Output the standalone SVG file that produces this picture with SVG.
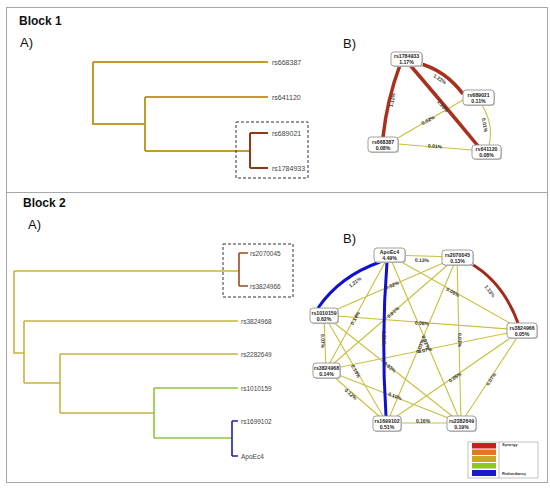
<svg xmlns="http://www.w3.org/2000/svg" width="550" height="490" viewBox="0 0 550 490">
<style>
.frame{fill:none;stroke:#a8a8a8;stroke-width:1}
.title{font-family:"Liberation Sans",Arial,sans-serif;font-size:12px;font-weight:bold;fill:#111}
.panel{font-family:"Liberation Sans",Arial,sans-serif;font-size:13px;fill:#111}
.leaf{font-family:"Liberation Sans",Arial,sans-serif;font-size:6.5px;fill:#444;dominant-baseline:central}
.t1{fill:none;stroke:#c49a2c;stroke-width:2}
.t1d{fill:none;stroke:#8b3a1a;stroke-width:2}
.t2{fill:none;stroke:#c8b43c;stroke-width:1.6}
.t2g{fill:none;stroke:#8dc63f;stroke-width:1.6}
.t2b{fill:none;stroke:#2222aa;stroke-width:1.6}
.t2d{fill:none;stroke:#9a4a1e;stroke-width:1.6}
.dash{fill:none;stroke:#333;stroke-width:1;stroke-dasharray:3,2}
.ey{fill:none;stroke:#c8c040;stroke-width:1.1}
.er{fill:none;stroke:#a8301c;stroke-width:3.5}
.er2{fill:none;stroke:#a02a1c;stroke-width:3}
.eb{fill:none;stroke:#1010d0;stroke-width:3}
.el{font-family:"Liberation Sans",Arial,sans-serif;font-size:5px;font-weight:bold;fill:#333;text-anchor:middle;dominant-baseline:central}
.box{fill:#fff;stroke:#888;stroke-width:0.8}
.shd{fill:#c8c8c8}
.nt{font-family:"Liberation Sans",Arial,sans-serif;font-size:5.2px;font-weight:bold;fill:#222;text-anchor:middle}
.lg{font-family:"Liberation Sans",Arial,sans-serif;font-size:4px;font-weight:bold;fill:#333}
</style>

<rect class="frame" x="6.5" y="7.5" width="541" height="185"/>
<rect class="frame" x="6.5" y="192.5" width="541" height="290"/>

<text class="title" x="19" y="25">Block 1</text>
<text class="panel" x="20" y="47">A)</text>
<text class="panel" x="343" y="48">B)</text>
<text class="title" x="23" y="207">Block 2</text>
<text class="panel" x="28" y="229">A)</text>
<text class="panel" x="343" y="243">B)</text>

<!-- Block 1 dendrogram -->
<g id="tree1">
<path class="t1" d="M93,62 H268 M93,62 V124 H145 M145,97 V151 M145,97 H268 M145,151 H250"/>
<path class="t1d" d="M250,133 V168 M250,133 H268 M250,168 H268"/>
<rect class="dash" x="236" y="122" width="72" height="56"/>
<text class="leaf" x="272" y="62" style="font-size:7px">rs668387</text>
<text class="leaf" x="272" y="97" style="font-size:7px">rs641120</text>
<text class="leaf" x="272" y="133" style="font-size:7px">rs689021</text>
<text class="leaf" x="272" y="168" style="font-size:7px">rs1784933</text>
</g>

<!-- Block 2 dendrogram -->
<g id="tree2">
<path class="t2" d="M14,271 H239 M14,271 V353 H24 M24,321 V383 M24,321 H238 M24,383 H60 M60,354 V413 M60,354 H238 M60,413 H154"/>
<path class="t2g" d="M154,388 V438 M154,388 H238 M154,438 H232"/>
<path class="t2b" d="M232,421 V456 M232,421 H238 M232,456 H238"/>
<path class="t2d" d="M239,253 V286 M239,253 H248 M239,286 H248"/>
<rect class="dash" x="223" y="244" width="70" height="53"/>
<text class="leaf" x="250" y="253">rs2070045</text>
<text class="leaf" x="250" y="286">rs3824966</text>
<text class="leaf" x="241" y="321">rs3824968</text>
<text class="leaf" x="241" y="354">rs2282649</text>
<text class="leaf" x="241" y="388">rs1010159</text>
<text class="leaf" x="241" y="421">rs1699102</text>
<text class="leaf" x="241" y="456">ApoEc4</text>
</g>

<!-- Block 1 network connectors -->
<g id="edges1">
<path class="ey" d="M396,139 L463,100"/>
<path class="ey" d="M482,105 Q494,125 489,145"/>
<path class="ey" d="M398,144 L472,150"/>
<path class="er" d="M400,65 Q387,100 383,137"/>
<path class="er" d="M418,63 Q445,70 463,94"/>
<path class="er" d="M410,65 Q440,100 478,146"/>
<text class="el" transform="translate(428,120) rotate(-30)">0.02%</text>
<text class="el" transform="translate(485,125) rotate(80)">0.01%</text>
<text class="el" transform="translate(435,146) rotate(4)">0.01%</text>
<text class="el" transform="translate(392,100) rotate(-78)">1.11%</text>
<text class="el" transform="translate(440,79) rotate(33)">1.22%</text>
<text class="el" transform="translate(443,106) rotate(50)">1.16%</text>
</g>

<!-- Block 2 network connectors -->
<g id="edges2">
<path class="ey" d="M389,255 L457,257 M389,255 L522,330 M389,255 L326,370 M389,255 L461,423 M457,257 L324,315 M457,257 L326,370 M457,257 L387,423 M457,257 L461,423 M324,315 L522,330 M324,315 L326,370 M324,315 L387,423 M324,315 L461,423 M522,330 L326,370 M522,330 L387,423 M522,330 L461,423 M326,370 L387,423 M326,370 L461,423 M387,423 L461,423"/>
<path class="eb" d="M380,262 Q340,276 318,308"/>
<path class="eb" d="M387,262 Q381,339 386,416"/>
<path class="er2" d="M470,263 Q503,282 518,323"/>
<text class="el" transform="translate(422,260) rotate(2)">0.13%</text>
<text class="el" transform="translate(355,282) rotate(-37)">1.21%</text>
<text class="el" transform="translate(453,292) rotate(29)">0.06%</text>
<text class="el" transform="translate(355,318) rotate(-61)">0.14%</text>
<text class="el" transform="translate(384,338) rotate(90)">1.21%</text>
<text class="el" transform="translate(426,342) rotate(67)">0.02%</text>
<text class="el" transform="translate(392,285) rotate(-24)">0.02%</text>
<text class="el" transform="translate(490,291) rotate(53)">1.13%</text>
<text class="el" transform="translate(393,312) rotate(-41)">0.01%</text>
<text class="el" transform="translate(420,346) rotate(-67)">0.03%</text>
<text class="el" transform="translate(460,340) rotate(89)">0.03%</text>
<text class="el" transform="translate(422,323) rotate(4)">0.08%</text>
<text class="el" transform="translate(323,341) rotate(88)">0.07%</text>
<text class="el" transform="translate(356,371) rotate(60)">0.14%</text>
<text class="el" transform="translate(390,367) rotate(38)">0.03%</text>
<text class="el" transform="translate(425,350) rotate(-11.5)">0.07%</text>
<text class="el" transform="translate(455,377) rotate(-35)">0.05%</text>
<text class="el" transform="translate(491,379) rotate(-57)">0.07%</text>
<text class="el" transform="translate(351,394) rotate(41)">0.12%</text>
<text class="el" transform="translate(395,396) rotate(21)">0.10%</text>
<text class="el" transform="translate(423,421)">0.16%</text>
</g>

<!-- Block 1 nodes -->
<g id="n-rs1784933"><rect class="shd" x="392" y="53" width="31" height="14" rx="3"/><rect class="box" x="391" y="52" width="31" height="14" rx="3"/><text class="nt" x="406.5" y="58">rs1784933</text><text class="nt" x="406.5" y="64">1.17%</text></g>
<g id="n-rs689021"><rect class="shd" x="464" y="91" width="31" height="15" rx="3"/><rect class="box" x="463" y="90" width="31" height="15" rx="3"/><text class="nt" x="478.5" y="96.5">rs689021</text><text class="nt" x="478.5" y="102.5">0.11%</text></g>
<g id="n-rs668387"><rect class="shd" x="369" y="138" width="30" height="15" rx="3"/><rect class="box" x="368" y="137" width="30" height="15" rx="3"/><text class="nt" x="383" y="143.5">rs668387</text><text class="nt" x="383" y="149.5">0.08%</text></g>
<g id="n-rs641120"><rect class="shd" x="473" y="146" width="29" height="14" rx="3"/><rect class="box" x="472" y="145" width="29" height="14" rx="3"/><text class="nt" x="486.5" y="151">rs641120</text><text class="nt" x="486.5" y="157">0.08%</text></g>

<!-- Block 2 nodes -->
<g id="n-ApoEc4"><rect class="shd" x="375" y="249" width="31" height="14" rx="3"/><rect class="box" x="374" y="248" width="31" height="14" rx="3"/><text class="nt" x="389.5" y="254">ApoEc4</text><text class="nt" x="389.5" y="260">4.49%</text></g>
<g id="n-rs2070045"><rect class="shd" x="443" y="251" width="31" height="15" rx="3"/><rect class="box" x="442" y="250" width="31" height="15" rx="3"/><text class="nt" x="457.5" y="256.5">rs2070045</text><text class="nt" x="457.5" y="262.5">0.13%</text></g>
<g id="n-rs1010159"><rect class="shd" x="311" y="309" width="28" height="15" rx="3"/><rect class="box" x="310" y="308" width="28" height="15" rx="3"/><text class="nt" x="324" y="314.5">rs1010159</text><text class="nt" x="324" y="320.5">0.62%</text></g>
<g id="n-rs3824966"><rect class="shd" x="508" y="324" width="30" height="15" rx="3"/><rect class="box" x="507" y="323" width="30" height="15" rx="3"/><text class="nt" x="522" y="329.5">rs3824966</text><text class="nt" x="522" y="335.5">0.05%</text></g>
<g id="n-rs3824968"><rect class="shd" x="314" y="364" width="27" height="15" rx="3"/><rect class="box" x="313" y="363" width="27" height="15" rx="3"/><text class="nt" x="326.5" y="369.5">rs3824968</text><text class="nt" x="326.5" y="375.5">0.14%</text></g>
<g id="n-rs1699102"><rect class="shd" x="374" y="417" width="28" height="15" rx="3"/><rect class="box" x="373" y="416" width="28" height="15" rx="3"/><text class="nt" x="387" y="422.5">rs1699102</text><text class="nt" x="387" y="428.5">0.51%</text></g>
<g id="n-rs2282649"><rect class="shd" x="448" y="417" width="29" height="15" rx="3"/><rect class="box" x="447" y="416" width="29" height="15" rx="3"/><text class="nt" x="461.5" y="422.5">rs2282649</text><text class="nt" x="461.5" y="428.5">0.19%</text></g>

<!-- Legend -->
<g id="legend">
<rect x="468" y="442" width="70" height="36" fill="#fff" stroke="#999" stroke-width="0.6"/>
<rect x="472" y="443" width="24" height="5.5" fill="#c8201a"/>
<rect x="472" y="449.5" width="24" height="5.5" fill="#e07a22"/>
<rect x="472" y="456" width="24" height="6" fill="#c9a824"/>
<rect x="472" y="463" width="24" height="5.5" fill="#8cc820"/>
<rect x="472" y="470" width="24" height="6" fill="#1a1acc"/>
<line x1="499" y1="442" x2="499" y2="478" stroke="#999" stroke-width="0.6"/>
<text class="lg" x="502" y="446">Synergy</text>
<text class="lg" x="502" y="474.5">Redundancy</text>
</g>
</svg>
